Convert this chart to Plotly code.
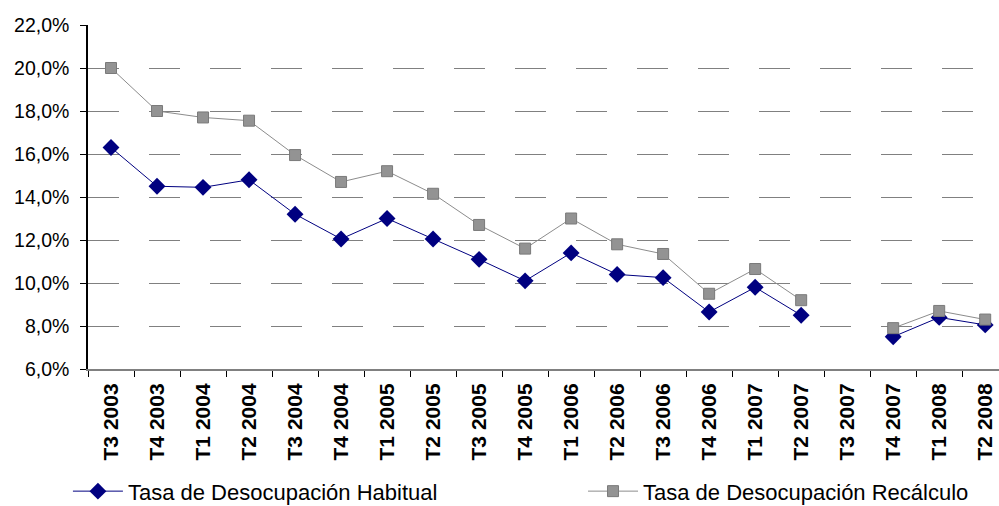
import plotly.graph_objects as go

trimestres = [
    "T3 2003", "T4 2003", "T1 2004", "T2 2004", "T3 2004", "T4 2004",
    "T1 2005", "T2 2005", "T3 2005", "T4 2005", "T1 2006", "T2 2006",
    "T3 2006", "T4 2006", "T1 2007", "T2 2007", "T3 2007", "T4 2007",
    "T1 2008", "T2 2008",
]
habitual = [
    0.163, 0.145, 0.1445, 0.148, 0.132, 0.1205,
    0.130, 0.1205, 0.111, 0.101, 0.114, 0.104,
    0.1025, 0.0865, 0.098, 0.085, None, 0.075,
    0.084, 0.0805,
]
recalculo = [
    0.200, 0.180, 0.177, 0.1755, 0.1595, 0.147,
    0.152, 0.1415, 0.127, 0.116, 0.130, 0.118,
    0.1135, 0.095, 0.1065, 0.092, None, 0.079,
    0.087, 0.083,
]

FONT = "Liberation Sans, Arial, sans-serif"

fig = go.Figure()
fig.add_trace(go.Scatter(
    x=trimestres, y=habitual, name="Tasa de Desocupación Habitual",
    mode="lines+markers", connectgaps=False, legend="legend",
    line=dict(color="#000080", width=1),
    marker=dict(symbol="diamond", size=13, color="#000080"),
))
fig.add_trace(go.Scatter(
    x=trimestres, y=recalculo, name="Tasa de Desocupación Recálculo",
    mode="lines+markers", connectgaps=False, legend="legend2",
    line=dict(color="#8c8c8c", width=1),
    marker=dict(symbol="square", size=11, color="#939393",
                line=dict(color="#7a7a7a", width=1)),
))

# two one-item legends side by side, pinned to the page bottom
legend_style = dict(
    orientation="h", xref="container", yref="container",
    y=0.029, xanchor="left", yanchor="middle", itemwidth=50,
    font=dict(family=FONT, size=22, color="black"),
    bgcolor="rgba(0,0,0,0)",
)

fig.update_layout(
    width=999, height=506,
    margin=dict(l=88, r=0, t=25, b=137),
    paper_bgcolor="white", plot_bgcolor="white",
    separators=",.",
    font=dict(family=FONT, size=16, color="black"),
    showlegend=True,
    legend=dict(legend_style, x=0.068),
    legend2=dict(legend_style, x=0.5836),
)
fig.update_xaxes(
    type="category", range=[-0.5, 19.3],
    tickson="boundaries", ticks="outside", ticklen=6, tickcolor="black",
    tickangle=-90, tickfont=dict(family=FONT, size=21, color="black", weight="bold"),
    ticklabelstandoff=4,
    showline=True, linecolor="#808080", linewidth=2,
    showgrid=False, zeroline=False,
)
fig.update_yaxes(
    range=[0.06, 0.22], dtick=0.02, tickformat=".1%",
    ticks="outside", ticklen=6, tickcolor="black",
    tickfont=dict(family=FONT, size=19.5, color="black"),
    ticklabelstandoff=7,
    showline=True, linecolor="black", linewidth=1.5,
    showgrid=True, gridcolor="#808080", gridwidth=1, griddash="31px,30px",
    zeroline=False,
)

fig.write_html(
    "out.html",
    config={"displayModeBar": False},
    post_script="document.body.style.margin='0';",
)
